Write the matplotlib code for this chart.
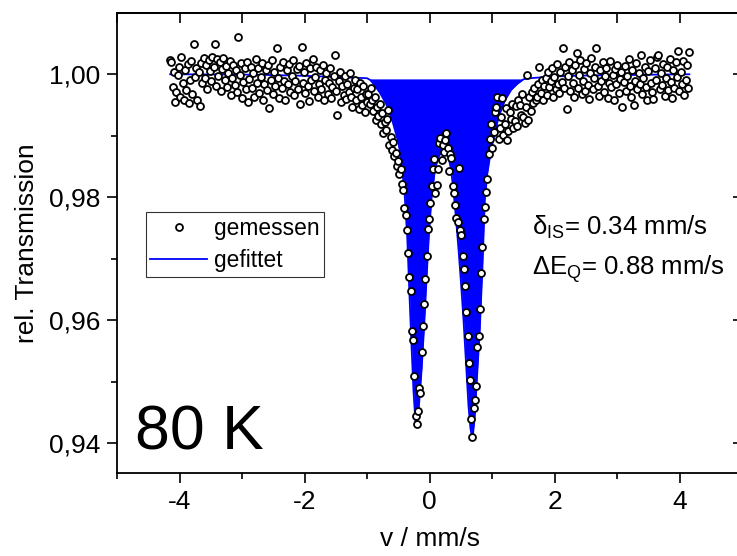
import numpy as np
import matplotlib
matplotlib.use("Agg")
import matplotlib.pyplot as plt
from matplotlib.ticker import MultipleLocator, FixedLocator, FuncFormatter, NullFormatter

plt.rcParams["font.family"] = ["Liberation Sans", "DejaVu Sans"]
plt.rcParams["mathtext.fontset"] = "custom"
plt.rcParams["mathtext.rm"] = "Liberation Sans"
plt.rcParams["mathtext.it"] = "Liberation Sans:italic"
plt.rcParams["axes.unicode_minus"] = False

# Velocity channels (mm/s), equally spaced
v_start, v_stop = -4.15, 4.15

# Measured relative transmission, channel by channel
trans_left = [
    1.0023, 1.0019, 0.9979, 1.0004, 0.9955, 0.9971, 0.9998, 1.0012, 0.9962, 1.0028,
    0.9986, 0.9958, 1.0007, 0.9974, 1.0016, 0.9953, 0.9990, 1.0021, 0.9967, 1.0049,
    0.9995, 1.0010, 0.9957, 1.0003, 0.9948, 1.0018, 0.9985, 1.0026, 0.9993, 1.0014,
    0.9976, 1.0022, 1.0005, 0.9988, 1.0027, 1.0011, 1.0049, 0.9981, 1.0024, 0.9996,
    1.0019, 0.9972, 1.0008, 1.0026, 0.9990, 1.0013, 0.9979, 1.0002, 1.0021, 0.9966,
    0.9993, 1.0015, 0.9982, 1.0006, 0.9970, 1.0060, 0.9998, 1.0017, 0.9961, 0.9987,
    1.0009, 0.9975, 1.0020, 0.9954, 0.9992, 1.0012, 0.9978, 1.0001, 0.9963, 1.0024,
    0.9986, 1.0010, 0.9969, 0.9995, 1.0018, 0.9957, 0.9983, 1.0007, 0.9974, 1.0014,
    0.9945, 0.9990, 1.0023, 0.9968, 1.0004, 0.9980, 1.0042, 0.9993, 0.9961, 1.0011,
    0.9977, 1.0019, 0.9988, 0.9958, 1.0006, 0.9984, 1.0016, 0.9971, 0.9997, 1.0022,
    0.9966, 0.9989, 1.0008, 0.9975, 1.0013, 0.9952, 1.0044, 0.9986, 1.0003, 0.9969,
    1.0017, 0.9980, 0.9956, 1.0009, 0.9991, 1.0025, 0.9973, 0.9995, 1.0012, 0.9962,
    0.9983, 1.0006, 0.9976, 1.0015, 0.9957, 0.9990, 1.0002, 0.9968, 0.9985, 1.0010,
    0.9961, 0.9979, 0.9996, 1.0031, 0.9972, 0.9934, 0.9988, 1.0004, 0.9955, 0.9981,
    0.9966, 0.9997, 0.9959, 0.9984, 0.9970, 1.0001, 0.9963, 0.9947, 0.9978, 0.9991,
    0.9958, 0.9975, 0.9943, 0.9986, 0.9962, 0.9950, 0.9981, 0.9938, 0.9967, 0.9955,
]
trans_center = [
    0.9968, 0.9951, 0.9978, 0.9957, 0.9940, 0.9962, 0.9925, 0.9946, 0.9931, 0.9952,
    0.9918, 0.9936, 0.9904, 0.9922, 0.9909, 0.9927, 0.9942, 0.9885, 0.9898, 0.9876,
    0.9890, 0.9866, 0.9872, 0.9850, 0.9859, 0.9838, 0.9845, 0.9822, 0.9812, 0.9783,
    0.9771, 0.9747, 0.9710, 0.9671, 0.9648, 0.9582, 0.9568, 0.9509, 0.9444, 0.9432,
    0.9452, 0.9490, 0.9482, 0.9548, 0.9590, 0.9627, 0.9667, 0.9705, 0.9749, 0.9765,
    0.9791, 0.9818, 0.9845, 0.9862, 0.9807, 0.9820, 0.9846, 0.9888, 0.9896, 0.9861,
    0.9885, 0.9873, 0.9892, 0.9904, 0.9880, 0.9843, 0.9870, 0.9864, 0.9818, 0.9807,
    0.9788, 0.9766, 0.9760, 0.9847, 0.9747, 0.9739, 0.9705, 0.9683, 0.9655, 0.9613,
    0.9575, 0.9530, 0.9503, 0.9439, 0.9411, 0.9458, 0.9470, 0.9494, 0.9557, 0.9575,
    0.9618, 0.9677, 0.9719, 0.9764, 0.9784, 0.9809, 0.9830, 0.9870, 0.9895, 0.9918,
    0.9880, 0.9906, 0.9938, 0.9947, 0.9963, 0.9894, 0.9912, 0.9930, 0.9961, 0.9901,
    0.9918, 0.9944, 0.9893, 0.9908, 0.9939, 0.9927, 0.9952, 0.9912, 0.9923, 0.9948,
    0.9915, 0.9958, 0.9950, 0.9934, 0.9968, 0.9930,
]
trans_right = [
    0.9921, 0.9946, 0.9998, 0.9925, 0.9962, 0.9940, 0.9971, 0.9953, 0.9978, 0.9958,
    0.9963, 0.9984, 1.0012, 0.9969, 0.9990, 0.9957, 0.9981, 0.9994, 0.9966, 1.0003,
    0.9979, 0.9988, 1.0009, 0.9962, 0.9995, 0.9975, 1.0016, 0.9983, 0.9969, 1.0004,
    0.9987, 1.0042, 0.9978, 1.0011, 0.9943, 0.9996, 1.0020, 0.9972, 1.0006, 0.9985,
    0.9962, 1.0014, 1.0034, 0.9977, 0.9998, 1.0023, 0.9967, 0.9989, 1.0008, 0.9973,
    1.0018, 0.9982, 0.9959, 1.0001, 1.0026, 0.9976, 0.9993, 1.0012, 1.0042, 0.9981,
    0.9964, 1.0007, 0.9988, 1.0019, 0.9970, 0.9997, 1.0010, 0.9961, 0.9985, 1.0021,
    0.9979, 0.9999, 0.9958, 1.0008, 0.9983, 1.0015, 0.9969, 0.9992, 1.0004, 0.9946,
    0.9987, 1.0013, 0.9972, 0.9996, 1.0024, 0.9980, 0.9962, 1.0006, 0.9950, 0.9989,
    1.0017, 0.9975, 1.0002, 0.9984, 1.0030, 0.9968, 0.9994, 1.0011, 0.9979, 0.9957,
    1.0005, 1.0022, 0.9986, 0.9970, 0.9960, 1.0009, 0.9991, 1.0028, 1.0030, 0.9976,
    1.0001, 0.9982, 1.0016, 0.9965, 0.9993, 1.0012, 0.9974, 1.0025, 0.9987, 0.9961,
    1.0007, 0.9978, 1.0019, 0.9995, 1.0037, 0.9972, 1.0003, 0.9984, 1.0021, 0.9966,
    0.9990, 1.0014, 0.9978, 1.0036,
]

# Fitted doublet, sampled along the curve
fit_v = [-4.15, -3.5, -3.0, -2.5, -2.0, -1.6, -1.3, -1.1, -1.0, -0.95, -0.9, -0.8,
         -0.7, -0.6, -0.5, -0.45, -0.4, -0.36, -0.32, -0.29, -0.26, -0.23, -0.215,
         -0.2, -0.17, -0.13, -0.09, -0.05, -0.01, 0.03, 0.08, 0.13, 0.18, 0.235,
         0.29, 0.34, 0.38, 0.42, 0.46, 0.5, 0.54, 0.58, 0.62, 0.65, 0.675, 0.69,
         0.72, 0.76, 0.8, 0.84, 0.88, 0.92, 0.96, 1.0, 1.1, 1.2, 1.3, 1.4, 1.5,
         1.65, 2.0, 2.5, 3.0, 3.5, 4.15]
fit_y = [0.99995, 0.99992, 0.9999, 0.99982, 0.9997, 0.99955, 0.9994, 0.99935,
         0.9993, 0.9990, 0.9984, 0.9970, 0.9952, 0.9925, 0.9888, 0.9855, 0.9802,
         0.9735, 0.9630, 0.9555, 0.9485, 0.9437, 0.9428, 0.9432, 0.9465, 0.9520,
         0.9590, 0.9670, 0.9745, 0.9800, 0.9842, 0.9863, 0.9873, 0.9876, 0.9870,
         0.9845, 0.9810, 0.9765, 0.9715, 0.9660, 0.9600, 0.9530, 0.9460, 0.9425,
         0.9410, 0.9413, 0.9445, 0.9515, 0.9585, 0.9680, 0.9795, 0.9838, 0.9864,
         0.9886, 0.9930, 0.9957, 0.9974, 0.9984, 0.99915, 0.99935, 0.9996,
         0.99975, 0.9998, 0.99988, 0.99995]
fill_level = 0.9992

legend_labels = ["gemessen", "gefittet"]
x_ticks = [-4, -2, 0, 2, 4]
y_ticks = [0.94, 0.96, 0.98, 1.00]

transmission = np.array(trans_left + trans_center + trans_right)
velocity = np.linspace(v_start, v_stop, len(transmission))
fit_v_arr = np.array(fit_v)
fit_y_arr = np.array(fit_y)

W, H = 737, 556
fig = plt.figure(figsize=(W / 100, H / 100), dpi=100)
ax = fig.add_axes([117 / W, 1 - 473 / H, 625.5 / W, 460 / H])

blue = "#0000ff"
ax.fill_between(fit_v_arr, fit_y_arr, fill_level, where=fit_y_arr < fill_level,
                interpolate=True, color=blue, lw=0, zorder=1)
fit_line, = ax.plot(fit_v_arr, fit_y_arr, color=blue, lw=1.3, zorder=2)
meas, = ax.plot(velocity, transmission, ls="none", marker="o", ms=5.0,
                mfc="white", mec="black", mew=1.3, zorder=3)

ax.set_xlim(-5, 5)
ax.set_ylim(0.9352, 1.0099)

ax.xaxis.set_major_locator(FixedLocator(x_ticks))
ax.xaxis.set_minor_locator(MultipleLocator(1))
ax.yaxis.set_major_locator(FixedLocator(y_ticks))
ax.yaxis.set_minor_locator(MultipleLocator(0.01))
ax.yaxis.set_major_formatter(FuncFormatter(lambda y, _: f"{y:.2f}".replace(".", ",")))
ax.xaxis.set_major_formatter(FuncFormatter(lambda x, _: f"{x:g}"))

ax.tick_params(which="major", direction="out", length=7, width=1.2,
               labelsize=19, top=False, right=False, pad=5)
ax.tick_params(which="minor", direction="out", length=4.5, width=1.2,
               top=False, right=False)
for s in ax.spines.values():
    s.set_linewidth(1.3)

# inward ticks on the top and right frame
secx = ax.secondary_xaxis("top")
secx.xaxis.set_major_locator(MultipleLocator(1))
secx.xaxis.set_major_formatter(NullFormatter())
secx.tick_params(direction="in", length=7, width=1.2)
secx.spines["top"].set_linewidth(1.3)
secy = ax.secondary_yaxis("right")
secy.yaxis.set_major_locator(FixedLocator(y_ticks))
secy.yaxis.set_minor_locator(MultipleLocator(0.01))
secy.yaxis.set_major_formatter(NullFormatter())
secy.tick_params(which="major", direction="in", length=7, width=1.2)
secy.tick_params(which="minor", direction="in", length=4.5, width=1.2)
secy.spines["right"].set_linewidth(1.3)

ax.set_xlabel("v / mm/s", fontsize=19)
ax.xaxis.set_label_coords(0.5, -0.118)
ax.set_ylabel("rel. Transmission", fontsize=19)
ax.yaxis.set_label_coords(-0.125, 0.5)

leg = ax.legend([meas, fit_line], legend_labels, loc="upper left",
                bbox_to_anchor=(0.0459, 0.5667), borderaxespad=0, frameon=True,
                fancybox=False, edgecolor="black", fontsize=16.4, handlelength=2.5,
                handletextpad=0.3, numpoints=1, borderpad=0.2, labelspacing=0.42)
leg.get_frame().set_linewidth(0.8)

ax.text(-4.709, 0.93903, "80 K", fontsize=45, ha="left", va="baseline")
ax.text(1.627, 0.97389, r"$\mathrm{\delta}_{\mathrm{IS}}$= 0.34 mm/s", fontsize=18.5,
        ha="left", va="baseline")
ax.text(1.627, 0.96741, r"$\Delta\mathrm{E}_{\mathrm{Q}}$= 0.88 mm/s", fontsize=18.5,
        ha="left", va="baseline")

fig.savefig("out.png", dpi=100)
